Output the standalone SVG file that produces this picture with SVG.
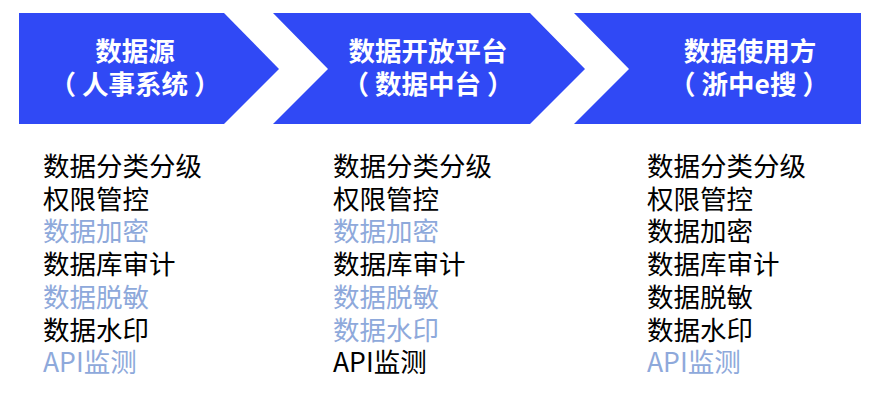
<svg xmlns="http://www.w3.org/2000/svg" width="875" height="403" viewBox="0 0 875 403">
<style>
.shape{fill:#3049F5;}
.title{font-family:"Noto Sans CJK SC","Noto Sans",sans-serif;font-weight:bold;font-size:26.5px;fill:#ffffff;text-anchor:middle;}
.item{font-family:"Noto Sans CJK SC","Noto Sans",sans-serif;font-size:26.5px;fill:#000000;}
.hl{fill:#8EA9DB;}
</style>
<rect width="875" height="403" fill="#ffffff"/>
<g id="source">
<polygon class="shape" points="19,13 224,13 279,69 224,124 19,124"/>
<text class="title" x="135" y="61">数据源</text>
<text class="title" x="135" y="93.5"><tspan>（</tspan><tspan dx="6">人事系统</tspan><tspan dx="6">）</tspan></text>
</g>
<g id="platform">
<polygon class="shape" points="273,13 530,13 585,69 530,124 273,124 328,69"/>
<text class="title" x="428" y="61">数据开放平台</text>
<text class="title" x="428" y="93.5"><tspan>（</tspan><tspan dx="6">数据中台</tspan><tspan dx="6">）</tspan></text>
</g>
<g id="consumer">
<polygon class="shape" points="574,13 861,13 861,124 574,124 629,69"/>
<text class="title" x="750" y="61">数据使用方</text>
<text class="title" x="749" y="93.5"><tspan>（</tspan><tspan dx="6">浙中e搜</tspan><tspan dx="6">）</tspan></text>
</g>
<g id="list-source">
<text class="item" x="43" y="176">数据分类分级</text>
<text class="item" x="43" y="208.7">权限管控</text>
<text class="item hl" x="43" y="241.4">数据加密</text>
<text class="item" x="43" y="274">数据库审计</text>
<text class="item hl" x="43" y="306.8">数据脱敏</text>
<text class="item" x="43" y="339.5">数据水印</text>
<text class="item hl" x="43" y="372">API监测</text>
</g>
<g id="list-platform">
<text class="item" x="333" y="176">数据分类分级</text>
<text class="item" x="333" y="208.7">权限管控</text>
<text class="item hl" x="333" y="241.4">数据加密</text>
<text class="item" x="333" y="274">数据库审计</text>
<text class="item hl" x="333" y="306.8">数据脱敏</text>
<text class="item hl" x="333" y="339.5">数据水印</text>
<text class="item" x="333" y="372">API监测</text>
</g>
<g id="list-consumer">
<text class="item" x="647" y="176">数据分类分级</text>
<text class="item" x="647" y="208.7">权限管控</text>
<text class="item" x="647" y="241.4">数据加密</text>
<text class="item" x="647" y="274">数据库审计</text>
<text class="item" x="647" y="306.8">数据脱敏</text>
<text class="item" x="647" y="339.5">数据水印</text>
<text class="item hl" x="647" y="372">API监测</text>
</g>
<g id="connectors"></g>
</svg>
